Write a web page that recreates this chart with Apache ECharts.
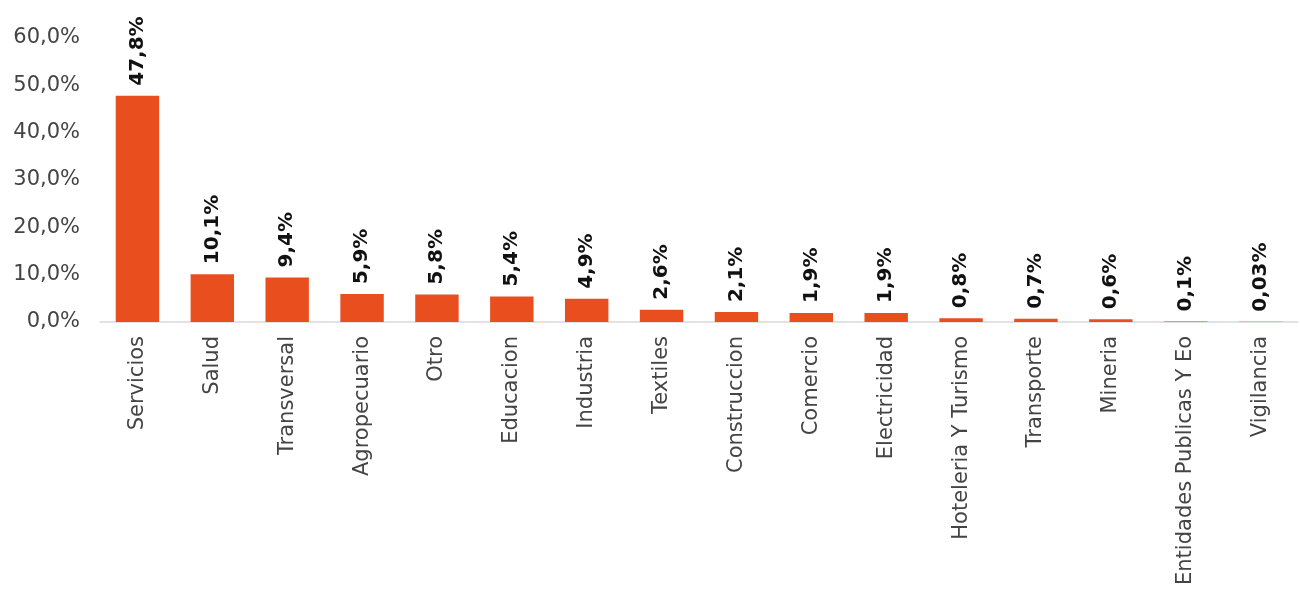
<!DOCTYPE html>
<html><head><meta charset="utf-8">
<script src="https://cdn.jsdelivr.net/npm/echarts@6/dist/echarts.min.js"></script>
<style>html,body{margin:0;padding:0;background:#fff}#c{width:1300px;height:607px}</style>
</head><body><div id="c"></div>
<script>
const categories = ["Servicios","Salud","Transversal","Agropecuario","Otro","Educacion","Industria","Textiles","Construccion","Comercio","Electricidad","Hoteleria Y Turismo","Transporte","Mineria","Entidades Publicas Y Eo","Vigilancia"];
const values = [47.8,10.1,9.4,5.9,5.8,5.4,4.9,2.6,2.1,1.9,1.9,0.8,0.7,0.6,0.1,0.03];
const yTicks = [0,10,20,30,40,50,60];
const fmt = v => (v < 0.1 ? v.toFixed(2) : v.toFixed(1)).replace('.', ',') + '%';
const lightFont = "'DejaVu Sans'";
const chart = echarts.init(document.getElementById('c'));
chart.setOption({
  animation:false,
  grid:{left:100,right:2,top:38,bottom:285},
  xAxis:{type:'category',data:categories,
    axisLine:{lineStyle:{color:'#d9d9d9',width:1.5}},axisTick:{show:false},
    axisLabel:{rotate:90,interval:0,fontFamily:lightFont,fontSize:21,color:'#444',margin:14}},
  yAxis:{type:'value',min:yTicks[0],max:yTicks[yTicks.length-1],interval:10,
    splitLine:{show:false},axisLine:{show:false},axisTick:{show:false},
    axisLabel:{formatter:v=>v.toFixed(1).replace('.',',')+'%',fontFamily:lightFont,fontSize:21,color:'#444',margin:20}},
  series:[{type:'bar',data:values,barWidth:'58%',itemStyle:{color:'#e94e1f'},
    label:{show:true,position:'top',rotate:90,align:'left',verticalAlign:'middle',distance:10,
      formatter:p=>fmt(p.value),fontFamily:'DejaVu Sans',fontWeight:'bold',fontSize:20,color:'#111'}}]
});
</script></body></html>
